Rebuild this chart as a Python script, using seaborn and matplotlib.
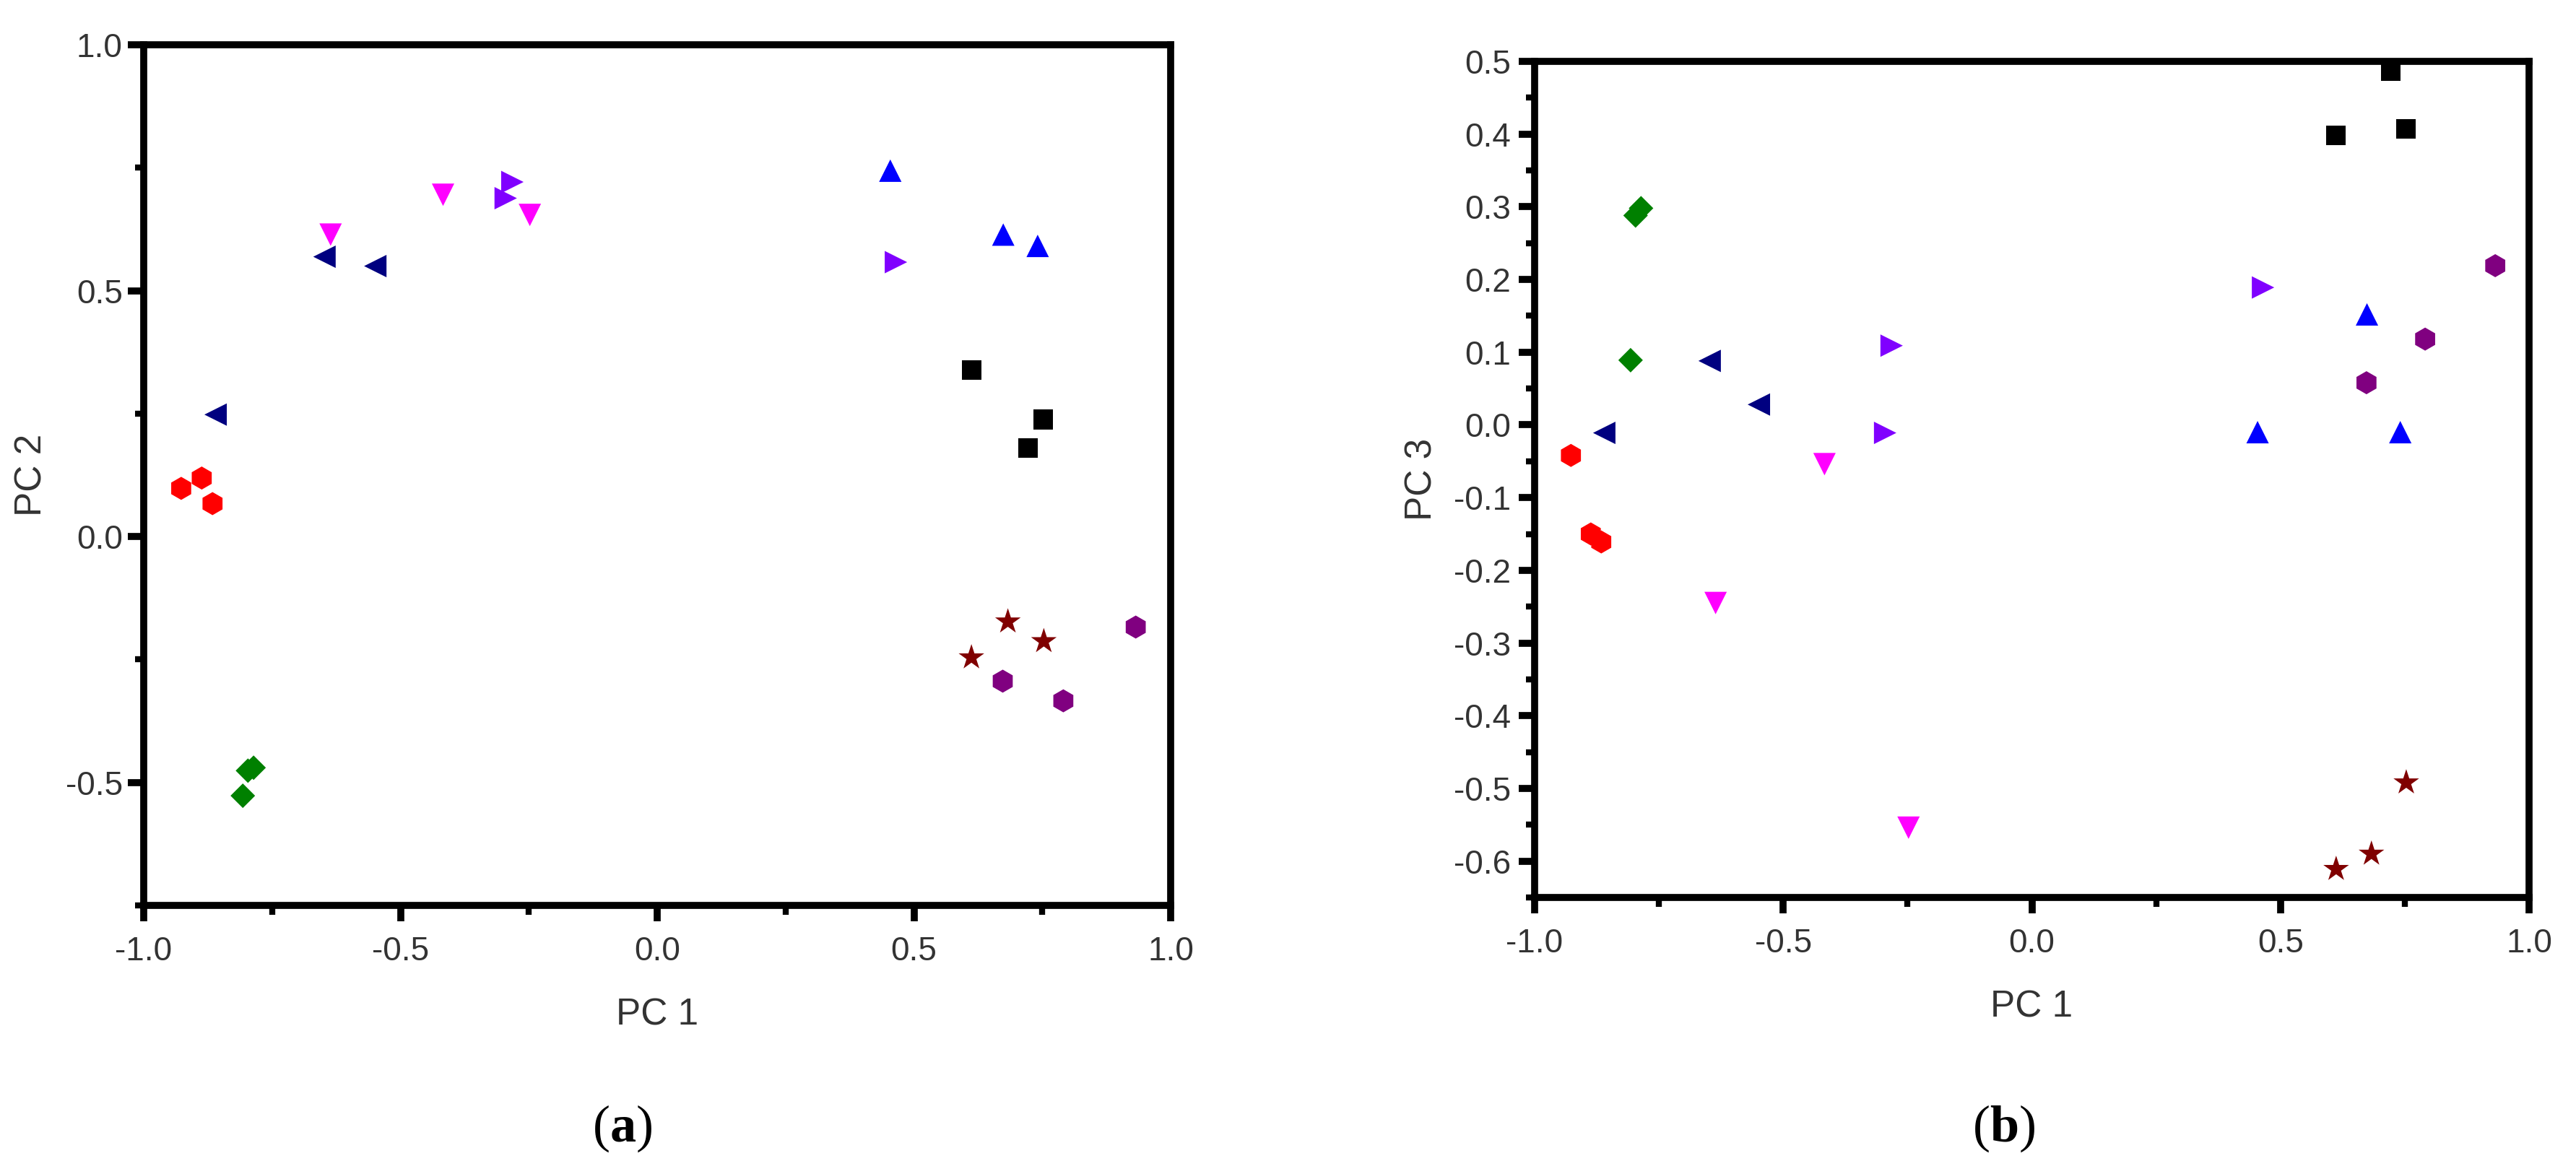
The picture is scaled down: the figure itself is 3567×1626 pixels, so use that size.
import numpy as np
import pandas as pd
import matplotlib
matplotlib.use("Agg")
import matplotlib.pyplot as plt
import seaborn as sns
from matplotlib.ticker import MultipleLocator, FormatStrFormatter

# ---------------- data ----------------
groups = ["S1", "S2", "S3", "S4", "S5", "S6", "S7", "S8", "S9"]
colors = ["#FF0000", "#000080", "#008000", "#FF00FF", "#8000FF",
          "#0000FF", "#000000", "#800000", "#800080"]
marker_list = ["h", "<", "D", "v", ">", "^", "s", "*", "h"]
marker_sizes = [530, 500, 300, 500, 500, 500, 380, 720, 530]

pc1_s1 = [-0.927, -0.887, -0.866]
pc2_s1 = [0.098, 0.119, 0.067]
pc3_s1 = [-0.042, -0.150, -0.161]

pc1_s2 = [-0.860, -0.648, -0.549]
pc2_s2 = [0.248, 0.569, 0.550]
pc3_s2 = [-0.011, 0.088, 0.028]

pc1_s3 = [-0.807, -0.797, -0.786]
pc2_s3 = [-0.527, -0.476, -0.470]
pc3_s3 = [0.089, 0.288, 0.298]

pc1_s4 = [-0.636, -0.417, -0.248]
pc2_s4 = [0.614, 0.695, 0.654]
pc3_s4 = [-0.245, -0.054, -0.554]

pc1_s5 = [-0.295, -0.282, 0.465]
pc2_s5 = [0.688, 0.721, 0.558]
pc3_s5 = [-0.011, 0.109, 0.189]

pc1_s6 = [0.454, 0.674, 0.741]
pc2_s6 = [0.744, 0.614, 0.591]
pc3_s6 = [-0.010, 0.152, -0.010]

pc1_s7 = [0.612, 0.722, 0.752]
pc2_s7 = [0.338, 0.180, 0.238]
pc3_s7 = [0.398, 0.487, 0.407]

pc1_s8 = [0.612, 0.683, 0.753]
pc2_s8 = [-0.246, -0.173, -0.213]
pc3_s8 = [-0.611, -0.590, -0.492]

pc1_s9 = [0.673, 0.791, 0.932]
pc2_s9 = [-0.294, -0.334, -0.184]
pc3_s9 = [0.058, 0.118, 0.219]

pc1_all = [pc1_s1, pc1_s2, pc1_s3, pc1_s4, pc1_s5, pc1_s6, pc1_s7, pc1_s8, pc1_s9]
pc2_all = [pc2_s1, pc2_s2, pc2_s3, pc2_s4, pc2_s5, pc2_s6, pc2_s7, pc2_s8, pc2_s9]
pc3_all = [pc3_s1, pc3_s2, pc3_s3, pc3_s4, pc3_s5, pc3_s6, pc3_s7, pc3_s8, pc3_s9]

rows = []
for g, a, b, c in zip(groups, pc1_all, pc2_all, pc3_all):
    for x1, x2, x3 in zip(a, b, c):
        rows.append({"group": g, "PC1": x1, "PC2": x2, "PC3": x3})
df = pd.DataFrame(rows)

palette = dict(zip(groups, colors))
markers = dict(zip(groups, marker_list))
sizes = dict(zip(groups, marker_sizes))

# ---------------- style ----------------
sns.set_style("white")
plt.rcParams["font.family"] = ["Liberation Sans", "DejaVu Sans"]
plt.rcParams["axes.unicode_minus"] = False
plt.rcParams["mathtext.fontset"] = "custom"
plt.rcParams["mathtext.rm"] = "Liberation Serif"
plt.rcParams["mathtext.bf"] = "Liberation Serif:bold"

W, H = 3567, 1626
fig = plt.figure(figsize=(W / 100, H / 100), dpi=100)
fig.patch.set_facecolor("white")

ax1 = fig.add_axes([199 / W, 1 - 1254 / H, 1422 / W, 1192 / H])
ax2 = fig.add_axes([2125 / W, 1 - 1243 / H, 1377 / W, 1158 / H])

TICK_COLOR = "#333333"


def style_axes(ax, ylim, ymajor, yminor, ylabel, ypad, ylabelpad):
    ax.set_xlim(-1.0, 1.0)
    ax.set_ylim(*ylim)
    ax.xaxis.set_major_locator(MultipleLocator(0.5))
    ax.xaxis.set_minor_locator(MultipleLocator(0.25))
    ax.yaxis.set_major_locator(MultipleLocator(ymajor))
    ax.yaxis.set_minor_locator(MultipleLocator(yminor))
    ax.xaxis.set_major_formatter(FormatStrFormatter("%.1f"))
    ax.yaxis.set_major_formatter(FormatStrFormatter("%.1f"))
    for sp in ax.spines.values():
        sp.set_visible(True)
        sp.set_linewidth(7)
        sp.set_color("black")
    ax.tick_params(axis="both", which="major", direction="out", length=16,
                   width=7, color="black", labelsize=33, labelcolor=TICK_COLOR,
                   bottom=True, left=True, top=False, right=False)
    ax.tick_params(axis="x", which="major", pad=14)
    ax.tick_params(axis="y", which="major", pad=ypad)
    ax.tick_params(axis="both", which="minor", direction="out", length=9,
                   width=6, color="black",
                   bottom=True, left=True, top=False, right=False)
    ax.set_xlabel("PC 1", fontsize=37, color=TICK_COLOR, labelpad=30)
    ax.set_ylabel(ylabel, fontsize=37, color=TICK_COLOR, labelpad=ylabelpad)
    ax.grid(False)


sns.scatterplot(data=df, x="PC1", y="PC2", hue="group", style="group",
                size="group", palette=palette, markers=markers, sizes=sizes,
                linewidth=0, legend=False, ax=ax1, zorder=3)
sns.scatterplot(data=df, x="PC1", y="PC3", hue="group", style="group",
                size="group", palette=palette, markers=markers, sizes=sizes,
                linewidth=0, legend=False, ax=ax2, zorder=3)

style_axes(ax1, (-0.75, 1.0), 0.5, 0.25, "PC 2", ypad=5, ylabelpad=16)
style_axes(ax2, (-0.65, 0.5), 0.1, 0.05, "PC 3", ypad=8, ylabelpad=14)

fig.text(862 / W, 1 - 1563 / H, r"$\mathrm{(}\mathbf{a}\mathrm{)}$",
         fontsize=52, ha="center", va="center", color="black")
fig.text(2775 / W, 1 - 1563 / H, r"$\mathrm{(}\mathbf{b}\mathrm{)}$",
         fontsize=52, ha="center", va="center", color="black")

fig.savefig("out.png", dpi=100, facecolor="white")
